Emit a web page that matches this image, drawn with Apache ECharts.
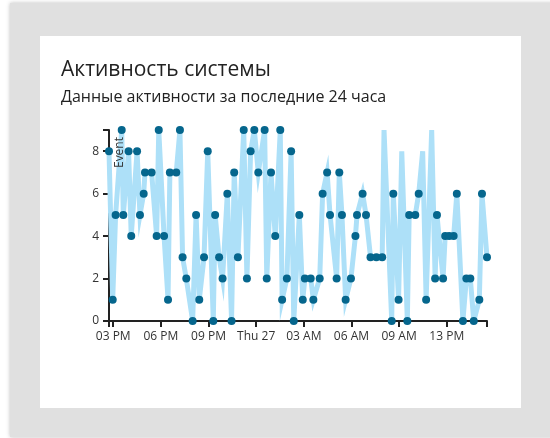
<!DOCTYPE html>
<html>
<head>
<meta charset="utf-8">
<script src="https://cdn.jsdelivr.net/npm/echarts@6/dist/echarts.min.js"></script>
<style>
html,body{margin:0;padding:0;background:#fff;}
#chart{width:550px;height:438px;}
</style>
</head>
<body>
<div id="chart"></div>
<script>
// ---- data ----
const times = [
  '2023-07-26 14:44','2023-07-26 14:58','2023-07-26 15:09','2023-07-26 15:32','2023-07-26 15:38',
  '2023-07-26 15:58','2023-07-26 16:08','2023-07-26 16:30','2023-07-26 16:41','2023-07-26 16:55',
  '2023-07-26 17:00','2023-07-26 17:25','2023-07-26 17:44','2023-07-26 17:52','2023-07-26 18:12',
  '2023-07-26 18:27','2023-07-26 18:34','2023-07-26 18:58','2023-07-26 19:12','2023-07-26 19:22',
  '2023-07-26 19:36','2023-07-26 20:00','2023-07-26 20:13','2023-07-26 20:25','2023-07-26 20:43',
  '2023-07-26 20:57','2023-07-26 21:18','2023-07-26 21:25','2023-07-26 21:40','2023-07-26 21:53',
  '2023-07-26 22:11','2023-07-26 22:27','2023-07-26 22:37','2023-07-26 22:51','2023-07-26 23:13',
  '2023-07-26 23:25','2023-07-26 23:39','2023-07-26 23:53','2023-07-27 00:08','2023-07-27 00:32',
  '2023-07-27 00:40','2023-07-27 00:56','2023-07-27 01:12','2023-07-27 01:31','2023-07-27 01:38',
  '2023-07-27 01:56','2023-07-27 02:12','2023-07-27 02:22','2023-07-27 02:43','2023-07-27 02:56',
  '2023-07-27 03:04','2023-07-27 03:26','2023-07-27 03:36','2023-07-27 04:00','2023-07-27 04:11',
  '2023-07-27 04:28','2023-07-27 04:39','2023-07-27 05:04','2023-07-27 05:14','2023-07-27 05:24',
  '2023-07-27 05:38','2023-07-27 05:58','2023-07-27 06:15','2023-07-27 06:21','2023-07-27 06:42',
  '2023-07-27 06:55','2023-07-27 07:12','2023-07-27 07:34','2023-07-27 07:56','2023-07-27 08:03',
  '2023-07-27 08:32','2023-07-27 08:38','2023-07-27 08:58','2023-07-27 09:10','2023-07-27 09:31',
  '2023-07-27 09:38','2023-07-27 10:01','2023-07-27 10:14','2023-07-27 10:29','2023-07-27 10:42',
  '2023-07-27 11:03','2023-07-27 11:16','2023-07-27 11:23','2023-07-27 11:46','2023-07-27 11:54',
  '2023-07-27 12:09','2023-07-27 12:26','2023-07-27 12:38','2023-07-27 13:01','2023-07-27 13:14',
  '2023-07-27 13:29','2023-07-27 13:42','2023-07-27 14:03','2023-07-27 14:13','2023-07-27 14:32'
];
const values = [
  8,1,5,9,5, 8,4,8,5,6, 7,7,4,9,4, 1,7,7,9,3,
  2,0,5,1,3, 8,0,5,3,2, 6,0,7,3,9, 2,8,9,7,9,
  2,7,4,9,1, 2,8,0,5,1, 2,2,1,2,6, 7,5,2,7,5,
  1,2,4,5,6, 5,3,3,3,9, 0,6,1,8,0, 5,5,6,8,1,
  9,2,5,2,4, 4,4,6,0,2, 2,0,1,6,3
];
// points drawn without a dot in the reference
const noMarkerTimes = ['2023-07-27 08:03','2023-07-27 09:10','2023-07-27 10:29','2023-07-27 11:03'];
const xTickTimes = ['2023-07-26 15:00','2023-07-26 18:00','2023-07-26 21:00','2023-07-27 00:00',
                    '2023-07-27 03:00','2023-07-27 06:00','2023-07-27 09:00','2023-07-27 12:00'];
const xTickLabels = ['03 PM','06 PM','09 PM','Thu 27','03 AM','06 AM','09 AM','13 PM'];
const yTickValues = [0,2,4,6,8];
const yMax = 9;
const titleText = 'Активность системы';
const subtitleText = 'Данные активности за последние 24 часа';
const yName = 'Event';

// ---- helpers: time strings -> hours since 2023-07-26 00:00 ----
function toHours(s){
  const m = s.match(/(\d+)-(\d+)-(\d+) (\d+):(\d+)/);
  return (+m[3] - 26) * 24 + (+m[4]) + (+m[5]) / 60;
}
const hrs = times.map(toHours);
const tickHrs = xTickTimes.map(toHours);
const noMarkerHrs = noMarkerTimes.map(toHours);
const xMin = hrs[0], xMax = hrs[hrs.length-1];

const seriesData = hrs.map((h,i) => {
  const d = {value:[h, values[i]]};
  if (noMarkerHrs.indexOf(h) >= 0) d.symbol = 'none';
  return d;
});

const FONT = '"Open Sans", "Noto Sans", sans-serif';
const chart = echarts.init(document.getElementById('chart'), null, {renderer:'canvas'});
chart.setOption({
  animation:false,
  backgroundColor:'#ffffff',
  graphic:[
    {type:'rect', z:-10, shape:{x:10, y:3, width:545, height:434},
     style:{fill:'#e0e0e0', shadowBlur:4, shadowColor:'rgba(0,0,0,0.25)', shadowOffsetX:0, shadowOffsetY:0}},
    {type:'rect', z:-9, shape:{x:40, y:36, width:481, height:372}, style:{fill:'#ffffff'}},
    {type:'text', z:10, x:61, y:81, style:{text:titleText, fill:'#222', font:'21px '+FONT, verticalAlign:'bottom'}},
    {type:'text', z:10, x:61, y:105, style:{text:subtitleText, fill:'#222', font:'16px '+FONT, verticalAlign:'bottom'}},
    {type:'text', z:10, x:114, y:137, rotation:Math.PI/2,
     style:{text:yName, fill:'#333', font:'12px '+FONT, align:'right', verticalAlign:'top'}}
  ],
  grid:{left:109, right:63, top:130, bottom:117, containLabel:false},
  xAxis:{
    type:'value', min:xMin, max:xMax,
    splitLine:{show:false},
    axisLine:{show:true, lineStyle:{color:'#222', width:2}},
    axisTick:{show:true, length:6, lineStyle:{color:'#222', width:2}, customValues:[xMin].concat(tickHrs,[xMax])},
    axisLabel:{
      customValues:tickHrs, color:'#333', fontFamily:FONT, fontSize:12, margin:10,
      formatter:function(v){
        let best=0, bd=Infinity;
        tickHrs.forEach((t,i)=>{const d=Math.abs(t-v); if(d<bd){bd=d;best=i;}});
        return xTickLabels[best];
      }
    }
  },
  yAxis:{
    type:'value', min:0, max:yMax,
    splitLine:{show:false},
    axisLine:{show:true, lineStyle:{color:'#222', width:2}},
    axisTick:{show:true, length:6, lineStyle:{color:'#222', width:2}, customValues:yTickValues.concat([yMax])},
    axisLabel:{customValues:yTickValues, color:'#333', fontFamily:FONT, fontSize:12, margin:10}
  },
  series:[{
    type:'line',
    data:seriesData,
    symbol:'circle',
    symbolSize:8,
    showAllSymbol:true,
    lineStyle:{color:'#ade0f8', width:5, join:'miter', miterLimit:10},
    itemStyle:{color:'#05668d', borderWidth:0},
    emphasis:{disabled:true}
  }]
});
</script>
</body>
</html>
